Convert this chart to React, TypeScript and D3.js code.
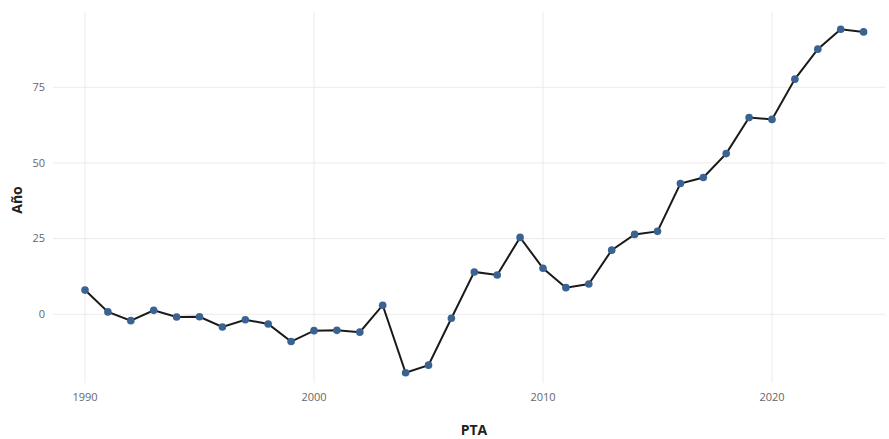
import React from "react";
import * as d3 from "d3";

const years: number[] = [
  1990, 1991, 1992, 1993, 1994, 1995, 1996, 1997, 1998, 1999,
  2000, 2001, 2002, 2003, 2004, 2005, 2006, 2007, 2008, 2009,
  2010, 2011, 2012, 2013, 2014, 2015, 2016, 2017, 2018, 2019,
  2020, 2021, 2022, 2023, 2024,
];
const values: number[] = [
  8.0, 0.8, -2.1, 1.3, -0.9, -0.8, -4.2, -1.8, -3.2, -9.0,
  -5.4, -5.3, -5.9, 3.0, -19.3, -16.8, -1.3, 14.0, 13.0, 25.4,
  15.2, 8.8, 10.0, 21.2, 26.4, 27.4, 43.2, 45.2, 53.1, 65.0,
  64.4, 77.7, 87.6, 94.2, 93.3,
];
const xTicks: number[] = [1990, 2000, 2010, 2020];
const yTicks: number[] = [0, 25, 50, 75];
const xTitle = "PTA";
const yTitle = "Año";

const W = 889;
const H = 439;
const left = 53;
const right = 885;
const top = 12;
const bottom = 383;

export default function App() {
  const x = d3.scaleLinear().domain([1990, 2020]).range([85, 772]);
  const y = d3.scaleLinear().domain([0, 75]).range([314.3, 87.3]);

  const data = years.map((yr, i) => ({ yr, v: values[i] }));
  const line = d3
    .line<{ yr: number; v: number }>()
    .x((d) => x(d.yr))
    .y((d) => y(d.v));

  const font = "'Open Sans', 'Noto Sans', sans-serif";

  return (
    <svg
      width={W}
      height={H}
      style={{ position: "absolute", left: 0, top: 0, background: "#fff" }}
      fontFamily={font}
    >
      <rect x={0} y={0} width={W} height={H} fill="#fff" />
      {yTicks.map((t) => (
        <line
          key={"gy" + t}
          x1={left}
          x2={right}
          y1={y(t)}
          y2={y(t)}
          stroke="#ebebeb"
          strokeWidth={1}
        />
      ))}
      {xTicks.map((t) => (
        <line
          key={"gx" + t}
          x1={x(t)}
          x2={x(t)}
          y1={top}
          y2={bottom}
          stroke="#ebebeb"
          strokeWidth={1}
        />
      ))}
      {yTicks.map((t) => (
        <text
          key={"ty" + t}
          x={45}
          y={y(t)}
          dy="0.35em"
          textAnchor="end"
          fontSize={11}
          fill="#666"
        >
          {t}
        </text>
      ))}
      {xTicks.map((t) => (
        <text
          key={"tx" + t}
          x={x(t)}
          y={397}
          dy="0.35em"
          textAnchor="middle"
          fontSize={11}
          fill="#666"
        >
          {t}
        </text>
      ))}
      <path d={line(data) ?? ""} fill="none" stroke="#1a1a1a" strokeWidth={2} />
      {data.map((d) => (
        <circle key={d.yr} cx={x(d.yr)} cy={y(d.v)} r={3.8} fill="#3b6391" />
      ))}
      <text
        x={474}
        y={430}
        dy="0.35em"
        textAnchor="middle"
        fontSize={14}
        fontWeight="bold"
        fill="#222"
      >
        {xTitle}
      </text>
      <text
        transform={`translate(17,200) rotate(-90)`}
        dy="0.35em"
        textAnchor="middle"
        fontSize={14}
        fontWeight="bold"
        fill="#222"
      >
        {yTitle}
      </text>
    </svg>
  );
}
